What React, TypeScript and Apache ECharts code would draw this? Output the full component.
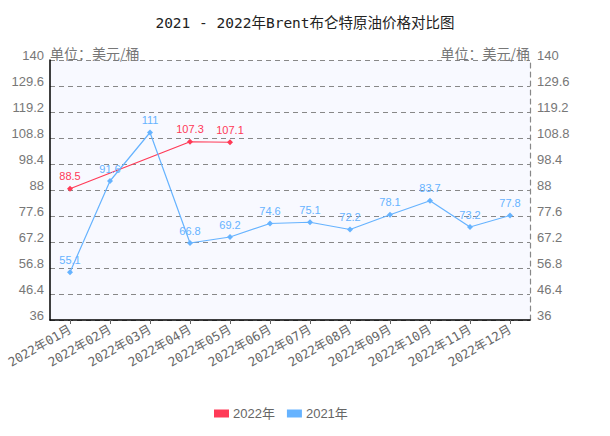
import React, { useEffect, useRef } from "react";
import * as echarts from "echarts";

const months = ["2022年01月", "2022年02月", "2022年03月", "2022年04月", "2022年05月", "2022年06月", "2022年07月", "2022年08月", "2022年09月", "2022年10月", "2022年11月", "2022年12月"];
const values2022: (number | null)[] = [88.5, null, null, 107.3, 107.1, null, null, null, null, null, null, null];
const values2021: number[] = [55.1, 91.6, 111, 66.8, 69.2, 74.6, 75.1, 72.2, 78.1, 83.7, 73.2, 77.8];
const yMin = 36;
const yMax = 140;
const ySplits = 10;
const titleText = "2021 - 2022年Brent布仑特原油价格对比图";
const unitText = "单位：美元/桶";

const RED = "#ff3a57";
const BLUE = "#66b3ff";
const MONO = "DejaVu Sans Mono, Noto Sans CJK SC, monospace";

export default function App() {
  const ref = useRef<HTMLDivElement>(null);
  useEffect(() => {
    if (!ref.current) return;
    const chart = echarts.init(ref.current, null, { renderer: "svg" });
    const labelFmt = (v: any) => String(+Number(v).toFixed(1));
    const valueAxisCommon = {
      type: "value",
      min: yMin,
      max: yMax,
      alignTicks: true,
      name: unitText,
      nameLocation: "end",
      nameGap: 0,
      axisTick: { show: false },
    };
    const axisLabelCommon = {
      formatter: labelFmt,
      color: "#777",
      fontSize: 13,
      fontFamily: "Liberation Sans, Arial, sans-serif",
      verticalAlign: "bottom",
      lineHeight: 10,
    };
    chart.setOption({
      animation: false,
      title: {
        text: titleText,
        left: "center",
        top: 11,
        textStyle: {
          fontSize: 14.5,
          fontWeight: "normal",
          color: "#222",
          fontFamily: MONO,
        },
      },
      legend: {
        top: 402,
        left: 209,
        itemWidth: 15,
        itemHeight: 8,
        itemGap: 12,
        itemStyle: { borderWidth: 0 },
        icon: "rect",
        data: ["2022年", "2021年"],
        textStyle: { color: "#666", fontSize: 13, fontFamily: "Liberation Sans, Noto Sans CJK SC, sans-serif", padding: [0, 0, 0, -1] },
      },
      grid: {
        left: 50,
        right: 80,
        top: 60,
        bottom: 116,
        show: true,
        backgroundColor: "#f8f9ff",
        borderWidth: 0,
      },
      xAxis: {
        type: "category",
        data: months,
        boundaryGap: true,
        axisLine: { lineStyle: { color: "#000", width: 1.5 } },
        axisTick: { show: true, alignWithLabel: true, length: 4, lineStyle: { color: "#666" } },
        axisLabel: {
          rotate: 30,
          interval: 0,
          color: "#666",
          fontSize: 12.5,
          margin: 8,
          fontFamily: MONO,
        },
      },
      yAxis: [
        {
          type: "value",
          min: 0,
          max: ySplits,
          interval: 1,
          show: false,
          splitLine: { show: false },
        },
        {
          ...valueAxisCommon,
          position: "left",
          nameTextStyle: { align: "left", verticalAlign: "bottom", color: "#777", fontSize: 14, fontFamily: "Noto Sans CJK SC, sans-serif" },
          axisLabel: { ...axisLabelCommon, margin: 6 },
          axisLine: { show: true, lineStyle: { color: "#000", width: 1.5 } },
          splitLine: { show: true, lineStyle: { color: "#888", type: [5, 4], width: 1.2 } },
        },
        {
          ...valueAxisCommon,
          position: "right",
          nameTextStyle: { align: "right", verticalAlign: "bottom", color: "#777", fontSize: 14, fontFamily: "Noto Sans CJK SC, sans-serif" },
          axisLabel: { ...axisLabelCommon, margin: 7 },
          axisLine: { show: true, lineStyle: { color: "#888", type: [5, 4], width: 1.2 } },
          splitLine: { show: false },
        },
      ],
      series: [
        {
          name: "2022年",
          type: "line",
          yAxisIndex: 1,
          data: values2022,
          connectNulls: true,
          color: RED,
          symbol: "diamond",
          symbolSize: 6,
          lineStyle: { width: 1.2, color: RED },
          label: { show: true, position: "top", distance: 4, color: RED, fontSize: 11, fontFamily: "Liberation Sans, Arial, sans-serif" },
        },
        {
          name: "2021年",
          type: "line",
          yAxisIndex: 1,
          data: values2021,
          color: BLUE,
          symbol: "diamond",
          symbolSize: 6,
          lineStyle: { width: 1.2, color: BLUE },
          label: { show: true, position: "top", distance: 4, color: BLUE, fontSize: 11, fontFamily: "Liberation Sans, Arial, sans-serif" },
        },
      ],
    });
    return () => chart.dispose();
  }, []);
  return <div ref={ref} style={{ position: "absolute", left: 0, top: 0, width: 610, height: 436 }} />;
}
